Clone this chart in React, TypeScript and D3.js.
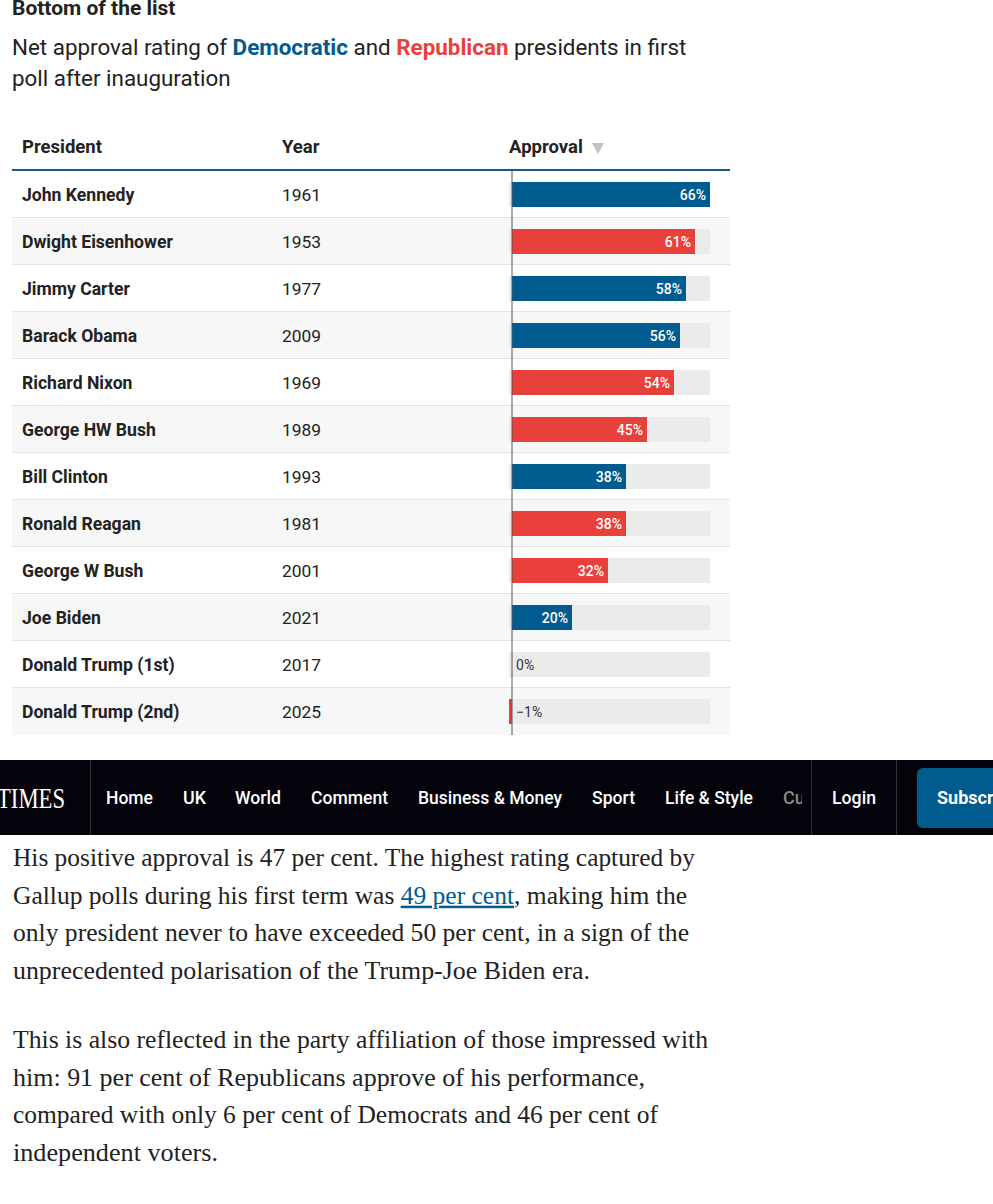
import * as d3 from 'd3';

const presidents = [
  'John Kennedy', 'Dwight Eisenhower', 'Jimmy Carter', 'Barack Obama', 'Richard Nixon',
  'George HW Bush', 'Bill Clinton', 'Ronald Reagan', 'George W Bush', 'Joe Biden',
  'Donald Trump (1st)', 'Donald Trump (2nd)',
];
const years = [1961, 1953, 1977, 2009, 1969, 1989, 1993, 1981, 2001, 2021, 2017, 2025];
const approvals = [66, 61, 58, 56, 54, 45, 38, 38, 32, 20, 0, -1];
const parties = ['D', 'R', 'D', 'D', 'R', 'R', 'D', 'R', 'R', 'D', 'R', 'R'];

const navItems = ['Home', 'UK', 'World', 'Comment', 'Business & Money', 'Sport', 'Life & Style'];

const para1 = [
  'His positive approval is 47 per cent. The highest rating captured by',
  'Gallup polls during his first term was |49 per cent|, making him the',
  'only president never to have exceeded 50 per cent, in a sign of the',
  'unprecedented polarisation of the Trump-Joe Biden era.',
];
const para2 = [
  'This is also reflected in the party affiliation of those impressed with',
  'him: 91 per cent of Republicans approve of his performance,',
  'compared with only 6 per cent of Democrats and 46 per cent of',
  'independent voters.',
];

const W = 993;
const H = 1204;
const BLUE = '#005b8f';
const RED = '#e8403a';
const SANS = 'Roboto, "Noto Sans", sans-serif';
const SERIF = '"Liberation Serif", "DejaVu Serif", serif';

const TABLE = { left: 12, right: 730, headerY: 153, lineY: 170 };
const ROW_H = 47;
const BAR_H = 25;

export default function App() {
  const x = d3.scaleLinear().domain([-1, 66]).range([509, 710]);
  const rows = d3.scaleBand<number>()
    .domain(d3.range(presidents.length))
    .range([TABLE.lineY + 1, TABLE.lineY + 1 + ROW_H * presidents.length]);
  const tableBottom = TABLE.lineY + 1 + ROW_H * presidents.length;

  const colour = (p: string) => (p === 'D' ? BLUE : RED);

  // nav positions measured off the page
  const navX = [106, 183, 235, 311, 418, 592, 665];
  const navW = [47, 23, 46, 77, 144, 43, 88];

  const para = (lines: string[], top: number, widths: number[]) =>
    lines.map((line, i) => {
      const parts = line.split('|');
      return (
        <text key={i} x={13} y={top + i * 37.7} fontFamily={SERIF} fontSize={25} fill="#222"
          textLength={widths[i]} lengthAdjust="spacingAndGlyphs">
          {parts.map((p, j) => (
            <tspan key={j} fill={j === 1 ? BLUE : '#222'}
              textDecoration={j === 1 ? 'underline' : undefined}>{p}</tspan>
          ))}
        </text>
      );
    });

  return (
    <div style={{ position: 'absolute', left: 0, top: 0, width: W, height: H, overflow: 'hidden', background: '#fff' }}>
      <svg width={W} height={H} style={{ display: 'block' }}>
        <defs>
          <clipPath id="nav-clip">
            <rect x={770} y={760} width={32} height={75} />
          </clipPath>
        </defs>

        {/* title + subtitle */}
        <text x={12} y={15} fontFamily={SANS} fontSize={21} fontWeight={700} fill="#222">Bottom of the list</text>
        <text x={12} y={55} fontFamily={SANS} fontSize={22.4} fill="#222">
          Net approval rating of <tspan fill={BLUE} fontWeight={700}>Democratic</tspan> and{' '}
          <tspan fill={RED} fontWeight={700}>Republican</tspan> presidents in first
        </text>
        <text x={12} y={86} fontFamily={SANS} fontSize={22.4} fill="#222">poll after inauguration</text>

        {/* header */}
        <g fontFamily={SANS} fontSize={18.5} fontWeight={700} fill="#222">
          <text x={22} y={TABLE.headerY}>President</text>
          <text x={282} y={TABLE.headerY}>Year</text>
          <text x={509} y={TABLE.headerY}>Approval</text>
          <path d="M592,143 L604,143 L598,154 Z" fill="#c4c4c4" />
        </g>

        {/* rows */}
        {presidents.map((name, i) => {
          const y0 = rows(i) ?? 0;
          const cy = y0 + ROW_H / 2;
          const v = approvals[i];
          const x0 = x(Math.min(0, v));
          const x1 = x(Math.max(0, v));
          const inside = v > 5;
          return (
            <g key={name}>
              <rect x={TABLE.left} y={y0} width={TABLE.right - TABLE.left} height={ROW_H}
                fill={i % 2 === 1 ? '#f7f7f7' : '#fff'} />
              {i < presidents.length - 1 && (
                <line x1={TABLE.left} x2={TABLE.right} y1={y0 + ROW_H - 0.5} y2={y0 + ROW_H - 0.5} stroke="#e3e3e3" />
              )}
              <text x={22} y={cy + 6} fontFamily={SANS} fontSize={17.6} fontWeight={700} fill="#222">{name}</text>
              <text x={282} y={cy + 6} fontFamily={SANS} fontSize={17.4} fill="#222">{years[i]}</text>
              <rect x={x(-1)} y={cy - BAR_H / 2} width={x(66) - x(-1)} height={BAR_H} fill="#ebebeb" />
              <rect x={x0} y={cy - BAR_H / 2} width={Math.max(0, x1 - x0)} height={BAR_H} fill={colour(parties[i])} />
              {inside ? (
                <text x={x1 - 4} y={cy + 5} textAnchor="end" fontFamily={SANS} fontSize={14} fontWeight={500} fill="#fff">
                  {v}%
                </text>
              ) : (
                <text x={x(0) + 4} y={cy + 5} fontFamily={SANS} fontSize={14} fill="#333">
                  {v < 0 ? `−${Math.abs(v)}` : v}%
                </text>
              )}
            </g>
          );
        })}
        <line x1={TABLE.left} x2={TABLE.right} y1={TABLE.lineY} y2={TABLE.lineY} stroke="#1b5a82" strokeWidth={2} />
        <line x1={x(0)} x2={x(0)} y1={TABLE.lineY} y2={tableBottom} stroke="#555" strokeWidth={1} />

        {/* nav bar */}
        <rect x={0} y={760} width={W} height={75} fill="#04030c" />
        <text x={65} y={808} textAnchor="end" fontFamily={SERIF} fontSize={29} fill="#fff"
          textLength={68} lengthAdjust="spacingAndGlyphs">TIMES</text>
        <line x1={90.5} x2={90.5} y1={760} y2={835} stroke="#333" />
        {navItems.map((t, i) => (
          <text key={t} x={navX[i]} y={804} fontFamily={SANS} fontSize={18} fontWeight={500} fill="#fff"
            textLength={navW[i]} lengthAdjust="spacingAndGlyphs">{t}</text>
        ))}
        <text x={783} y={804} fontFamily={SANS} fontSize={18} fontWeight={500} fill="#8a8a8a"
          clipPath="url(#nav-clip)">Cul</text>
        <line x1={811.5} x2={811.5} y1={760} y2={835} stroke="#333" />
        <text x={832} y={804} fontFamily={SANS} fontSize={18} fontWeight={500} fill="#fff"
          textLength={44} lengthAdjust="spacingAndGlyphs">Login</text>
        <line x1={896.5} x2={896.5} y1={760} y2={835} stroke="#333" />
        <rect x={917} y={768} width={110} height={60} rx={6} fill="#005b8f" />
        <text x={937} y={804} fontFamily={SANS} fontSize={18} fontWeight={700} fill="#fff">Subscribe</text>

        {/* article text */}
        {para(para1, 866, [682, 674, 676, 577])}
        {para(para2, 1048, [695, 632, 645, 205])}
      </svg>
    </div>
  );
}
